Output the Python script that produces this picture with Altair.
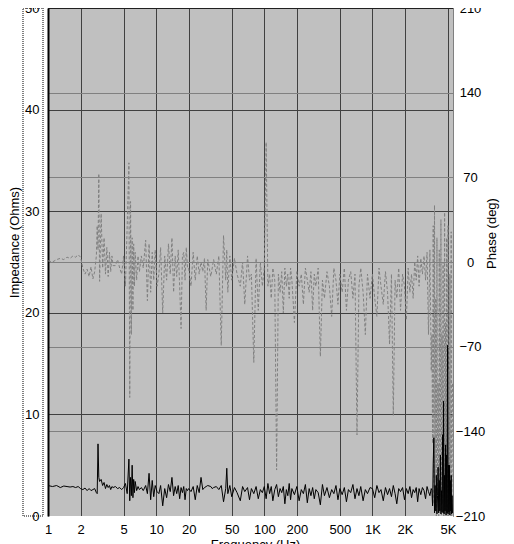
import altair as alt
import pandas as pd

# ---- data (frequency in Hz) ----
freq_hz = [
    1.0, 1.1, 1.2, 1.3, 1.4, 1.5, 1.6, 1.7, 1.8, 1.9, 2.0, 2.1, 2.2, 2.3, 2.4, 2.5, 2.6, 2.7, 2.8,
    2.85, 2.9, 2.95, 3.0, 3.1, 3.2, 3.3, 3.4, 3.5, 3.6, 3.7, 3.8, 3.9, 4.0,
    4.2, 4.4, 4.6, 4.8, 5.0, 5.2, 5.4, 5.6, 5.7, 5.8, 5.9, 6.0, 6.1, 6.2, 6.3, 6.4, 6.6, 6.8, 7.0,
    7.3, 7.6, 8.0, 8.3, 8.6, 8.9, 9.2, 9.5, 9.8, 10.2, 10.6, 11.0, 11.5, 12.0, 12.5,
    13.0, 13.5, 14.0, 14.5, 15.0, 15.5, 16.0, 16.5, 17.0, 17.5, 18.0, 18.5, 19.0, 19.5,
    20, 21, 22, 23, 24, 25, 26, 27, 28, 29, 30, 32, 33, 34, 36, 38, 40, 42, 44, 45,
    46, 48, 50, 53, 56, 60, 63, 66, 70, 73, 76, 80, 84, 88, 92, 96,
    100, 104, 108, 112, 116, 120, 125, 130, 135, 140, 145, 150, 155, 160, 165,
    170, 175, 180, 190, 200, 210, 220, 230, 240, 250, 260, 270, 280, 290, 300,
    315, 330, 345, 360, 380, 400, 420, 440, 460, 480, 500, 525, 550, 575, 600,
    630, 660, 690, 720, 750, 780, 820, 860, 900, 950,
    1000, 1050, 1100, 1150, 1200, 1260, 1320, 1380, 1440, 1500, 1560, 1620, 1680, 1750, 1820,
    1900, 1980, 2060, 2140, 2220, 2300, 2380, 2460, 2540, 2620, 2700, 2800, 2900, 3000, 3100,
    3200, 3300, 3400, 3500,
    3550, 3600, 3650, 3700, 3750, 3800, 3850, 3900, 3950, 4000, 4050, 4100, 4150, 4200, 4250,
    4300, 4350, 4400, 4450, 4500, 4550, 4600, 4650, 4700, 4750, 4800, 4850, 4900, 4950, 5000,
    5050, 5100, 5150, 5200, 5250, 5300, 5350, 5400, 5450, 5500,
]

impedance_ohms = [
    3.0, 2.9, 3.0, 2.8, 2.95, 2.9, 2.85, 2.9, 2.8, 2.9, 2.7, 2.6, 2.75, 2.5, 2.7, 2.5, 2.6, 2.7, 2.3,
    2.2, 7.1, 3.8, 3.4, 3.6, 3.0, 3.3, 2.7, 3.1, 2.8, 3.0, 2.6, 2.9, 2.8,
    2.9, 2.7, 2.8, 2.6, 2.8, 3.2, 2.2, 5.6, 1.5, 3.8, 2.0, 5.0, 1.8, 3.6, 2.3, 3.4, 2.5, 2.9, 2.6,
    2.8, 2.5, 3.0, 2.2, 4.2, 1.6, 3.5, 1.9, 3.0, 2.4, 2.2, 3.0, 1.0, 2.7, 1.8,
    3.1, 2.4, 3.8, 2.0, 2.9, 2.2, 3.0, 1.7, 2.8, 2.3, 2.9, 1.6, 2.7, 2.5,
    2.7, 2.4, 2.9, 1.6, 3.0, 2.3, 3.8, 2.6, 2.8, 2.9, 3.0, 2.9, 2.7, 2.8, 2.9, 2.6, 3.0, 1.4, 2.7, 4.7,
    2.2, 3.0, 1.9, 2.8, 2.3, 1.5, 2.9, 2.4, 2.8, 1.6, 2.7, 2.2, 2.9, 1.7, 2.6, 2.3,
    2.9, 1.7, 3.2, 2.2, 2.9, 1.5, 2.6, 3.1, 1.9, 2.7, 2.3, 2.9, 1.2, 2.6, 2.0,
    3.2, 1.6, 2.7, 2.1, 2.9, 1.5, 2.6, 2.2, 3.1, 1.3, 2.7, 2.0, 2.8, 1.7, 2.6,
    2.3, 1.1, 3.1, 2.0, 2.8, 1.8, 2.6, 2.2, 3.0, 1.6, 2.7, 2.1, 2.8, 1.4, 2.6,
    2.3, 3.1, 1.7, 2.7, 2.0, 2.9, 1.5, 2.6, 2.2, 2.8,
    2.7, 1.8, 3.0, 2.3, 2.6, 1.5, 2.8, 2.1, 2.7, 1.9, 3.0, 2.2, 1.2, 2.7, 2.4,
    2.8, 1.6, 2.7, 2.2, 2.9, 1.8, 2.6, 2.3, 2.8, 1.4, 2.7, 2.1, 2.8, 2.5, 1.7,
    2.9, 2.4, 2.0, 2.7,
    2.5, 1.0, 5.2, 7.7, 0.3, 3.0, 0.5, 4.0, 0.2, 2.0, 4.8, 0.3, 3.5, 0.5, 6.0,
    0.2, 2.5, 0.4, 8.0, 0.3, 11.3, 0.2, 4.0, 0.5, 7.0, 0.1, 6.0, 0.3, 16.8, 0.2,
    5.0, 0.4, 5.0, 0.1, 3.5, 0.5, 4.0, 0.2, 2.0, 0.3,
]

phase_deg = [
    1, 0, 2, 3, 2, 4, 3, 5, 4, 6, 4, -5, -10, -6, -12, -4, -14, -8, 5,
    30, 10, 73, -16, 40, -5, 20, -10, 12, -12, 8, -8, 5, -3,
    -3, 2, -5, -10, 5, -20, 30, 82, -112, 50, -60, 20, -40, 15, -20, 8, -15, 5, -8,
    5, -5, 18, -32, 15, -25, 8, -15, 10, -20, -10, 12, -42, 5, -15,
    15, -10, 20, -25, 5, -12, 10, -20, -55, 5, 8, -15, 12, -5,
    -5, -20, 8, -15, 5, -10, 0, -8, 3, -40, 2, -12, -5, 2, -10, 5, -69, 22, -15, 10,
    -25, 5, -15, 3, -10, -20, 0, -35, 5, -15, -10, -83, 3, -40, 0, -20,
    -5, 99, -20, -10, -30, -5, -15, -172, -10, -25, -8, -42, -5, -20, -10,
    -30, -5, -15, -50, -8, -20, -10, -35, -5, -15, -25, -8, -40, -10, -20,
    -5, -78, -15, -30, -8, -20, -45, -5, -15, -35, -10, -25, -5, -40, -15,
    -8, -30, -10, -143, -20, -5, -25, -60, -10, -30,
    -10, -30, -45, -5, -20, -35, -8, -25, -68, -10, -127, -15, -30, -5, -40,
    -10, -20, -48, -5, -25, -10, -30, 0, -15, 5, -20, 3, -10, 5, -15,
    8, -60, 10, -90,
    -60, -150, 30, -200, 47, -180, -30, -210, 20, -190, -100, -210, 10, -205, -150,
    35, -210, -60, -200, 0, -210, -120, 41, -210, -50, -200, 20, -210, -170, 30,
    -210, -90, -200, -10, -210, -140, 25, -210, -180, -100,
]

x_tick_values = [1, 2, 5, 10, 20, 50, 100, 200, 500, 1000, 2000, 5000]
x_tick_labels = ["1", "2", "5", "10", "20", "50", "100", "200", "500", "1K", "2K", "5K"]
impedance_ticks = [0, 10, 20, 30, 40, 50]
phase_ticks = [-210, -140, -70, 0, 70, 140, 210]

df = pd.DataFrame({"f": freq_hz, "z": impedance_ohms, "p": phase_deg})

label_expr = "'' + datum.value"
for v, l in reversed(list(zip(x_tick_values, x_tick_labels))):
    label_expr = f"datum.value == {v} ? '{l}' : ({label_expr})"

FONT = "Liberation Sans"
W, H = 405, 508

x_enc = alt.X(
    "f:Q",
    scale=alt.Scale(type="log", domain=[1, 5560], nice=False),
    axis=alt.Axis(
        values=x_tick_values, labelExpr=label_expr, grid=True, gridColor="#404040",
        gridOpacity=1, ticks=False, domainColor="#ffffff", labelFontSize=13,
        labelFont=FONT, labelColor="black", labelPadding=7, labelBaseline="top",
        labelFlush=False, labelOverlap=False,
        title="Frequency (Hz)", titleFont=FONT, titleFontSize=13, titleFontWeight="normal",
        titleColor="black", titleX=207, titleY=22, titleBaseline="top", titleAlign="center",
    ),
)

phase_line = alt.Chart(df).mark_line(
    color="#808080", strokeWidth=1, strokeDash=[3, 2]
).encode(
    x=x_enc,
    y=alt.Y(
        "p:Q",
        scale=alt.Scale(domain=[-210, 210], nice=False, zero=False),
        axis=alt.Axis(
            orient="right", values=phase_ticks, grid=True, gridColor="#808080", gridOpacity=1,
            ticks=False, domainColor="#808080", labelAlign="center", labelPadding=17,
            labelFontSize=13, labelFont=FONT, labelColor="black", labelFlush=False,
            labelOverlap=False,
            title="Phase (deg)", titleFont=FONT, titleFontSize=13, titleFontWeight="normal",
            titleColor="black", titleAngle=270, titleX=38, titleY=225,
            titleBaseline="middle", titleAlign="center",
        ),
    ),
)

imp_line = alt.Chart(df).mark_line(color="black", strokeWidth=1).encode(
    x=x_enc,
    y=alt.Y(
        "z:Q",
        scale=alt.Scale(domain=[0, 50], nice=False, zero=False),
        axis=alt.Axis(
            orient="left", values=impedance_ticks, grid=True, gridColor="#404040", gridOpacity=1,
            ticks=False, domainColor="black", domainWidth=2, labelPadding=9,
            labelFontSize=13, labelFont=FONT, labelColor="black", labelFlush=False,
            labelOverlap=False,
            title="Impedance (Ohms)", titleFont=FONT, titleFontSize=13, titleFontWeight="normal",
            titleColor="black", titleAngle=270, titleX=-34, titleY=234,
            titleBaseline="middle", titleAlign="center",
        ),
    ),
)

deco = pd.DataFrame({"k": [0]})
top_border = alt.Chart(deco).mark_rule(color="black", strokeWidth=1).encode(
    x=alt.value(0), x2=alt.value(W), y=alt.value(0)
)
dotted_box = alt.Chart(deco).mark_rect(
    filled=False, stroke="black", strokeWidth=1, strokeDash=[1, 1]
).encode(x=alt.value(-25), x2=alt.value(-5), y=alt.value(0), y2=alt.value(H))

chart = alt.layer(phase_line, imp_line, top_border, dotted_box).resolve_scale(
    y="independent"
).properties(
    width=W, height=H,
    autosize=alt.AutoSizeParams(type="none"),
    padding={"left": 40, "top": 0, "right": 53, "bottom": 28},
    background="white",
).configure_view(fill="#C0C0C0", stroke="transparent")

chart.save("out.html", embed_options={"renderer": "svg", "actions": False})
